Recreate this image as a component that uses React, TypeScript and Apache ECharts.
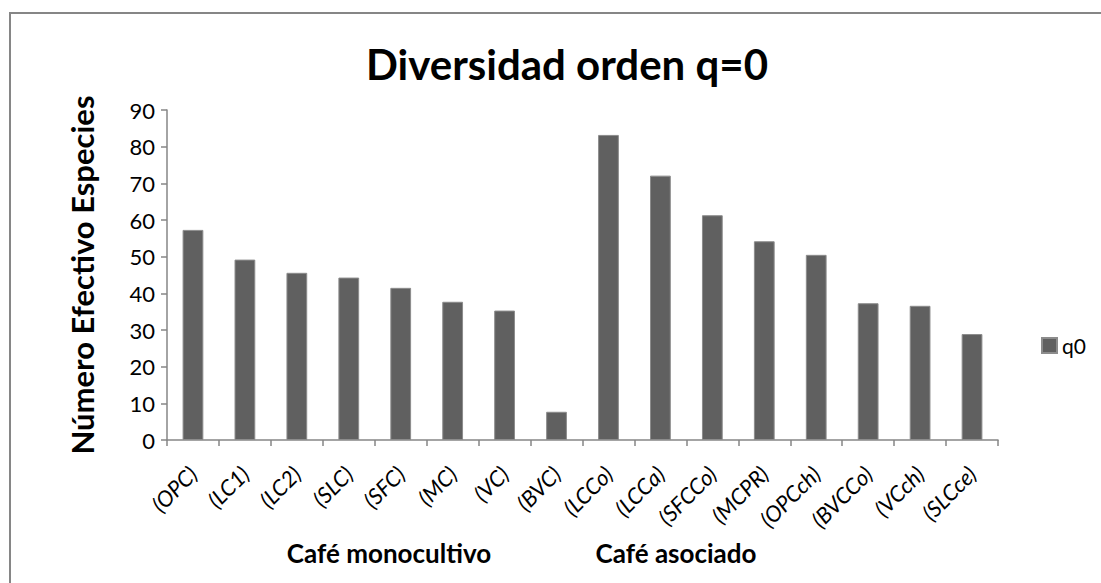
import React, { useEffect, useRef } from "react";
import * as echarts from "echarts";

const categories = ["(OPC)", "(LC1)", "(LC2)", "(SLC)", "(SFC)", "(MC)", "(VC)", "(BVC)", "(LCCo)", "(LCCa)", "(SFCCo)", "(MCPR)", "(OPCch)", "(BVCCo)", "(VCch)", "(SLCce)"];
const q0Values = [57.3, 49.2, 45.6, 44.3, 41.5, 37.7, 35.3, 7.7, 83.2, 72.1, 61.3, 54.2, 50.5, 37.3, 36.6, 28.9];
const seriesName = "q0";
const titleText = "Diversidad orden q=0";
const yAxisTitle = "Número Efectivo Especies";
const groupLabels = ["Café monocultivo", "Café asociado"];

const FONT = "Lato, 'Open Sans', sans-serif";

export default function App() {
  const ref = useRef<HTMLDivElement>(null);
  useEffect(() => {
    if (!ref.current) return;
    const chart = echarts.init(ref.current, null, { renderer: "svg" });
    chart.setOption({
      animation: false,
      backgroundColor: "#ffffff",
      textStyle: { fontFamily: FONT },
      title: {
        text: titleText,
        left: 562,
        top: 38,
        textAlign: "center",
        textStyle: { fontFamily: FONT, fontWeight: "bold", fontSize: 42, color: "#000" },
      },
      legend: {
        left: 1036,
        top: 330,
        itemWidth: 15,
        itemHeight: 15,
        icon: "rect",
        textStyle: { fontFamily: FONT, fontSize: 21, color: "#000" },
        data: [seriesName],
      },
      grid: { left: 167, right: 103, top: 110, bottom: 143, containLabel: false },
      xAxis: {
        type: "category",
        data: categories,
        axisLine: { lineStyle: { color: "#868686", width: 1.5 } },
        axisTick: { show: true, length: 6, inside: false, lineStyle: { color: "#868686", width: 1.5 } },
        axisLabel: {
          interval: 0,
          rotate: 45,
          margin: 30,
          fontStyle: "italic",
          fontFamily: FONT,
          fontSize: 22,
          color: "#000",
        },
      },
      yAxis: {
        type: "value",
        min: 0,
        max: 90,
        interval: 10,
        name: yAxisTitle,
        nameLocation: "middle",
        nameGap: 70,
        nameTextStyle: { fontFamily: FONT, fontWeight: "bold", fontSize: 31, color: "#000" },
        splitLine: { show: false },
        axisLine: { show: true, lineStyle: { color: "#868686", width: 1.5 } },
        axisTick: { show: true, length: 6, lineStyle: { color: "#868686", width: 1.5 } },
        axisLabel: { fontFamily: FONT, fontSize: 22, color: "#000", margin: 12 },
      },
      graphic: [
        {
          type: "rect",
          shape: { x: 10, y: 13, width: 1200, height: 700 },
          style: { fill: "none", stroke: "#868686", lineWidth: 2 },
          silent: true,
        },
        {
          type: "text",
          x: 389,
          y: 553,
          style: {
            text: groupLabels[0],
            fontFamily: FONT,
            fontWeight: "bold",
            fontSize: 26,
            fill: "#000",
            align: "center",
            verticalAlign: "middle",
          },
        },
        {
          type: "text",
          x: 676,
          y: 553,
          style: {
            text: groupLabels[1],
            fontFamily: FONT,
            fontWeight: "bold",
            fontSize: 26,
            fill: "#000",
            align: "center",
            verticalAlign: "middle",
          },
        },
      ],
      series: [
        {
          name: seriesName,
          type: "bar",
          data: q0Values,
          barWidth: "40%",
          itemStyle: { color: "#606060", borderColor: "#8c8c8c", borderWidth: 1 },
        },
      ],
    });
    return () => chart.dispose();
  }, []);
  return (
    <div
      ref={ref}
      style={{ position: "fixed", left: 0, top: 0, width: 1101, height: 583 }}
    />
  );
}
